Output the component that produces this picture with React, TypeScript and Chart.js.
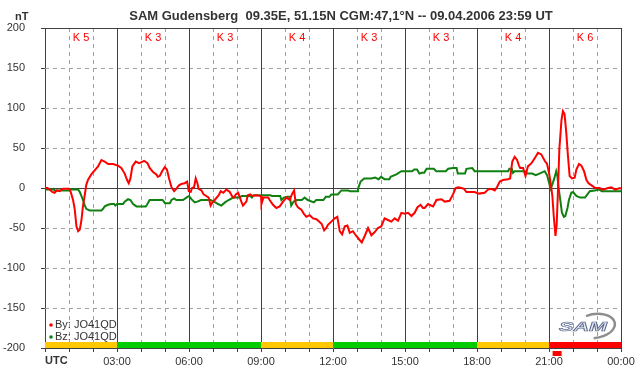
import React, { useEffect, useRef } from 'react';
import { Chart, registerables } from 'chart.js';

Chart.register(...registerables);

const TITLE = 'SAM Gudensberg  09.35E, 51.15N CGM:47,1°N -- 09.04.2006 23:59 UT';
const Y_UNIT = 'nT';
const X_UNIT = 'UTC';
const K_LABELS = ['K 5', 'K 3', 'K 3', 'K 4', 'K 3', 'K 3', 'K 4', 'K 6'];
const K_COLORS = ['#ffc800', '#00cc00', '#00cc00', '#ffc800', '#00cc00', '#00cc00', '#ffc800', '#ff0000'];
const X_TICK_LABELS: Record<number, string> = { 3: '03:00', 6: '06:00', 9: '09:00', 12: '12:00', 15: '15:00', 18: '18:00', 21: '21:00', 24: '00:00' };
const LEGEND_BY = 'By: JO41QD';
const LEGEND_BZ = 'Bz: JO41QD';

// By (red): time in hours, value in nT
const BY_T = [0, 0.1, 0.2, 0.3, 0.4, 0.5, 0.6, 0.75, 1.0, 1.05, 1.1, 1.17, 1.24, 1.31, 1.38, 1.45, 1.52, 1.58, 1.65, 1.72, 1.79, 1.93, 2.07, 2.21, 2.35, 2.42, 2.49, 2.63, 2.83, 3.04, 3.18, 3.32, 3.42, 3.49, 3.56, 3.64, 3.78, 3.92, 4.0, 4.13, 4.27, 4.36, 4.5, 4.64, 4.7, 4.78, 4.88, 4.99, 5.08, 5.17, 5.27, 5.38, 5.47, 5.57, 5.68, 5.82, 5.92, 5.96, 5.99, 6.07, 6.13, 6.21, 6.28, 6.35, 6.4, 6.52, 6.61, 6.72, 6.82, 6.9, 6.96, 7.07, 7.24, 7.32, 7.43, 7.56, 7.7, 7.79, 7.88, 7.95, 8.05, 8.18, 8.25, 8.39, 8.45, 8.55, 8.65, 8.8, 9.0, 9.02, 9.1, 9.3, 9.36, 9.5, 9.64, 9.78, 9.92, 10.06, 10.2, 10.3, 10.38, 10.45, 10.54, 10.68, 10.78, 10.89, 11.03, 11.17, 11.31, 11.42, 11.53, 11.63, 11.72, 11.79, 11.93, 12.07, 12.18, 12.28, 12.38, 12.49, 12.6, 12.7, 12.83, 12.97, 13.11, 13.2, 13.32, 13.46, 13.6, 13.74, 13.87, 14.01, 14.15, 14.29, 14.43, 14.57, 14.71, 14.85, 14.99, 15.13, 15.27, 15.4, 15.52, 15.65, 15.75, 15.82, 15.96, 16.17, 16.31, 16.52, 16.65, 16.86, 17.0, 17.11, 17.22, 17.35, 17.46, 17.56, 17.9, 18.08, 18.32, 18.46, 18.6, 18.74, 18.83, 18.95, 19.08, 19.29, 19.38, 19.47, 19.57, 19.67, 19.75, 19.8, 19.92, 20.02, 20.12, 20.27, 20.4, 20.54, 20.68, 20.82, 20.92, 21.0, 21.07, 21.14, 21.2, 21.27, 21.32, 21.38, 21.43, 21.52, 21.58, 21.65, 21.72, 21.79, 21.86, 21.96, 22.07, 22.14, 22.25, 22.35, 22.46, 22.56, 22.65, 22.79, 22.93, 23.11, 23.25, 23.46, 23.6, 23.75, 23.95, 24];
const BY_V = [0, 0, -2, -5, -6, -3, -4, -1, -1, -3, -8, -15, -27, -48, -54, -52, -40, -23, -10, 4, 10, 17, 22, 27, 35, 34, 33, 30, 30, 28, 25, 18, 10, 6, 12, 27, 33, 31, 32, 34, 31, 25, 20, 17, 14, 15, 21, 26, 23, 12, 1, -4, -1, 3, 5, 6, 8, 2, -4, -5, 0, 1, 12, 6, -1, -3, -8, -10, -12, -22, -19, -15, -9, -4, -6, -2, -5, -10, -12, -8, -6, -17, -22, -17, -9, -8, -10, -9, -10, -20, -12, -12, -15, -21, -25, -23, -17, -12, -15, -7, -3, -20, -24, -27, -32, -36, -34, -38, -39, -42, -45, -53, -50, -46, -42, -38, -36, -54, -58, -48, -47, -56, -54, -60, -65, -68, -60, -50, -59, -55, -50, -48, -38, -40, -42, -38, -41, -31, -32, -31, -35, -31, -24, -21, -25, -25, -20, -23, -15, -14, -17, -16, -8, 0, 1, 0, -1, -5, -5, -7, -6, -2, -1, -3, 1, 8, 10, 11, 12, 33, 39, 35, 28, 25, 25, 15, 27, 31, 37, 44, 42, 34, 30, 19, 6, -10, -36, -60, -46, 2, 48, 85, 96, 92, 69, 40, 15, 12, 13, 23, 30, 28, 21, 10, 6, 3, 0, 0, -2, 0, 1, -2, 0, -1];

// Bz (green): time in hours, value in nT
const BZ_T = [0, 0.3, 0.35, 0.4, 1.0, 1.05, 1.38, 1.45, 1.52, 1.58, 1.65, 1.72, 1.86, 2.35, 2.42, 2.49, 2.63, 2.75, 2.88, 2.93, 3.0, 3.25, 3.32, 3.46, 3.56, 3.67, 3.81, 4.2, 4.25, 4.36, 4.9, 5.0, 5.2, 5.27, 5.38, 5.47, 5.75, 5.89, 6.0, 6.1, 6.24, 6.35, 6.5, 6.9, 7.1, 7.21, 7.35, 7.5, 7.65, 7.84, 8.1, 8.2, 8.55, 8.62, 8.7, 9.4, 9.45, 9.8, 9.85, 9.95, 10.1, 10.2, 10.26, 10.36, 10.5, 10.7, 10.82, 10.95, 11.2, 11.3, 11.6, 11.7, 11.85, 11.93, 12.2, 12.35, 12.63, 12.7, 13.0, 13.04, 13.15, 13.3, 13.6, 13.75, 13.9, 14.0, 14.15, 14.35, 14.4, 14.64, 14.85, 15.3, 15.38, 15.5, 15.6, 15.7, 15.8, 15.9, 16.2, 16.3, 16.7, 16.8, 17.0, 17.15, 17.2, 17.5, 17.56, 17.8, 17.9, 19.3, 19.35, 19.45, 19.5, 19.57, 20.0, 20.1, 20.3, 20.45, 20.6, 20.82, 20.92, 21.0, 21.06, 21.12, 21.22, 21.3, 21.35, 21.4, 21.47, 21.54, 21.62, 21.68, 21.77, 21.83, 21.93, 22.0, 22.14, 22.3, 22.5, 22.6, 22.7, 22.9, 23.1, 23.2, 24];
const BZ_V = [-2, -2, -1, -3, -3, -2, -2, -5, -10, -15, -21, -26, -28, -28, -26, -23, -21, -20, -20, -22, -20, -20, -17, -14, -15, -20, -23, -23, -21, -15, -15, -19, -19, -15, -13, -15, -15, -12, -10, -14, -18, -17, -15, -15, -18, -20, -22, -18, -15, -12, -12, -10, -10, -12, -9, -9, -10, -10, -15, -12, -11, -11, -22, -17, -15, -15, -12, -15, -18, -15, -15, -11, -11, -8, -8, -3, -3, -4, -4, -1, 8, 12, 12, 13, 11, 14, 11, 11, 14, 17, 21, 21, 23, 23, 18, 19, 19, 24, 24, 21, 21, 24, 25, 25, 18, 18, 24, 25, 21, 21, 24, 24, 19, 21, 21, 18, 18, 16, 18, 21, 16, 7, -1, 3, 12, 21, 15, 0, -15, -31, -36, -35, -25, -15, -6, -5, -10, -12, -12, -8, -4, -3, -2, -4, -4];

const FONT = "'Liberation Sans', Arial, sans-serif";

const decorPlugin = {
  id: 'decor',
  beforeDatasetsDraw(chart: any) {
    const { ctx, chartArea: a, scales } = chart;
    const x = scales.x;
    const y = scales.y;
    const px = (v: number) => Math.round(x.getPixelForValue(v)) + 0.5;
    const py = (v: number) => Math.round(y.getPixelForValue(v)) + 0.5;
    ctx.save();
    ctx.lineWidth = 1;
    // dashed grid
    ctx.strokeStyle = '#a0a0a0';
    ctx.setLineDash([4, 4]);
    for (let h = 1; h < 24; h++) {
      if (h % 3 === 0) continue;
      ctx.beginPath();
      ctx.moveTo(px(h), a.top);
      ctx.lineTo(px(h), a.bottom);
      ctx.stroke();
    }
    for (let v = -150; v <= 150; v += 50) {
      if (v === 0) continue;
      ctx.beginPath();
      ctx.moveTo(a.left, py(v));
      ctx.lineTo(a.right, py(v));
      ctx.stroke();
    }
    ctx.setLineDash([]);
    // solid grid
    ctx.strokeStyle = '#404040';
    for (let h = 3; h <= 24; h += 3) {
      ctx.beginPath();
      ctx.moveTo(px(h), a.top);
      ctx.lineTo(px(h), a.bottom);
      ctx.stroke();
    }
    for (const v of [0, 200]) {
      ctx.beginPath();
      ctx.moveTo(a.left, py(v));
      ctx.lineTo(a.right + 1, py(v));
      ctx.stroke();
    }
    // K colour bar
    const barTop = y.getPixelForValue(-200) - 6;
    for (let i = 0; i < 8; i++) {
      const x0 = x.getPixelForValue(i * 3);
      const x1 = x.getPixelForValue(i * 3 + 3);
      ctx.fillStyle = K_COLORS[i];
      ctx.fillRect(x0, barTop, x1 - x0, 6);
    }
    // K labels
    ctx.fillStyle = '#ff0000';
    ctx.font = `11px ${FONT}`;
    ctx.textAlign = 'center';
    ctx.textBaseline = 'alphabetic';
    for (let i = 0; i < 8; i++) {
      ctx.fillText(K_LABELS[i], x.getPixelForValue(i * 3 + 1.5), a.top + 13);
    }
    ctx.restore();
  },
  afterDraw(chart: any) {
    const { ctx, chartArea: a, scales } = chart;
    const x = scales.x;
    ctx.save();
    // title
    ctx.fillStyle = '#333333';
    ctx.font = `bold 13px ${FONT}`;
    ctx.textAlign = 'center';
    ctx.textBaseline = 'alphabetic';
    ctx.fillText(TITLE, 341, 20);
    ctx.textAlign = 'left';
    ctx.font = `bold 11px ${FONT}`;
    ctx.fillText(Y_UNIT, 15, 20);
    ctx.fillText(X_UNIT, a.left, 364);
    // small red marker under 21:00
    ctx.fillStyle = '#ff0000';
    const m0 = x.getPixelForValue(21.15);
    ctx.fillRect(m0, 351, 9, 5);
    // legend
    ctx.font = `11px ${FONT}`;
    ctx.fillStyle = '#333333';
    ctx.fillText(LEGEND_BY, 55, 328);
    ctx.fillText(LEGEND_BZ, 55, 340);
    ctx.fillStyle = '#ff0000';
    ctx.beginPath(); ctx.arc(51, 325, 1.8, 0, Math.PI * 2); ctx.fill();
    ctx.fillStyle = '#108010';
    ctx.beginPath(); ctx.arc(51, 337, 1.8, 0, Math.PI * 2); ctx.fill();
    // SAM logo
    ctx.strokeStyle = '#8e8e8e';
    ctx.lineWidth = 2.5;
    ctx.beginPath();
    ctx.ellipse(595, 326, 20, 12, -0.15, -Math.PI * 0.62, Math.PI * 0.55);
    ctx.stroke();
    ctx.save();
    ctx.translate(559, 331);
    ctx.scale(1.8, 1);
    ctx.font = `italic bold 12px ${FONT}`;
    ctx.fillStyle = '#e4e8f0';
    ctx.strokeStyle = '#56658a';
    ctx.lineWidth = 0.6;
    ctx.fillText('SAM', 0, 0);
    ctx.strokeText('SAM', 0, 0);
    ctx.restore();
    ctx.restore();
  },
};

export default function App() {
  const ref = useRef<HTMLCanvasElement>(null);
  useEffect(() => {
    document.body.style.margin = '0';
    const canvas = ref.current!;
    Chart.defaults.font.family = FONT;
    const chart = new Chart(canvas, {
      type: 'line',
      data: {
        datasets: [
          {
            label: 'By',
            data: BY_T.map((t, i) => ({ x: t, y: BY_V[i] })),
            borderColor: '#ff0000',
            borderWidth: 2,
            pointRadius: 0,
            tension: 0,
            fill: false,
          },
          {
            label: 'Bz',
            data: BZ_T.map((t, i) => ({ x: t, y: BZ_V[i] })),
            borderColor: '#108010',
            borderWidth: 2,
            pointRadius: 0,
            tension: 0,
            fill: false,
          },
        ],
      },
      options: {
        animation: false,
        responsive: false,
        devicePixelRatio: 1,
        layout: { padding: { top: 28, right: 21, left: 0, bottom: 0 } },
        plugins: { legend: { display: false }, title: { display: false }, tooltip: { enabled: false } },
        scales: {
          x: {
            type: 'linear',
            min: 0,
            max: 24,
            afterFit: (s: any) => { s.height = 28; },
            ticks: {
              stepSize: 1,
              autoSkip: false,
              maxRotation: 0,
              padding: 3,
              color: '#333333',
              font: { size: 11, family: FONT },
              callback: (v: any) => X_TICK_LABELS[v] ?? '',
            },
            grid: { drawOnChartArea: false, drawTicks: true, tickLength: 4, tickColor: '#404040' },
            border: { display: true, color: '#404040', width: 1 },
          },
          y: {
            min: -200,
            max: 200,
            afterFit: (s: any) => { s.width = 45; },
            ticks: {
              stepSize: 50,
              padding: 16,
              color: '#333333',
              font: { size: 11, family: FONT },
            },
            grid: { drawOnChartArea: false, drawTicks: true, tickLength: 4, tickColor: '#404040' },
            border: { display: true, color: '#404040', width: 1 },
          },
        },
      },
      plugins: [decorPlugin],
    });
    return () => chart.destroy();
  }, []);
  return (
    <div style={{ position: 'absolute', left: 0, top: 0, width: 642, height: 376, background: '#fff' }}>
      <canvas ref={ref} width={642} height={376} />
    </div>
  );
}
